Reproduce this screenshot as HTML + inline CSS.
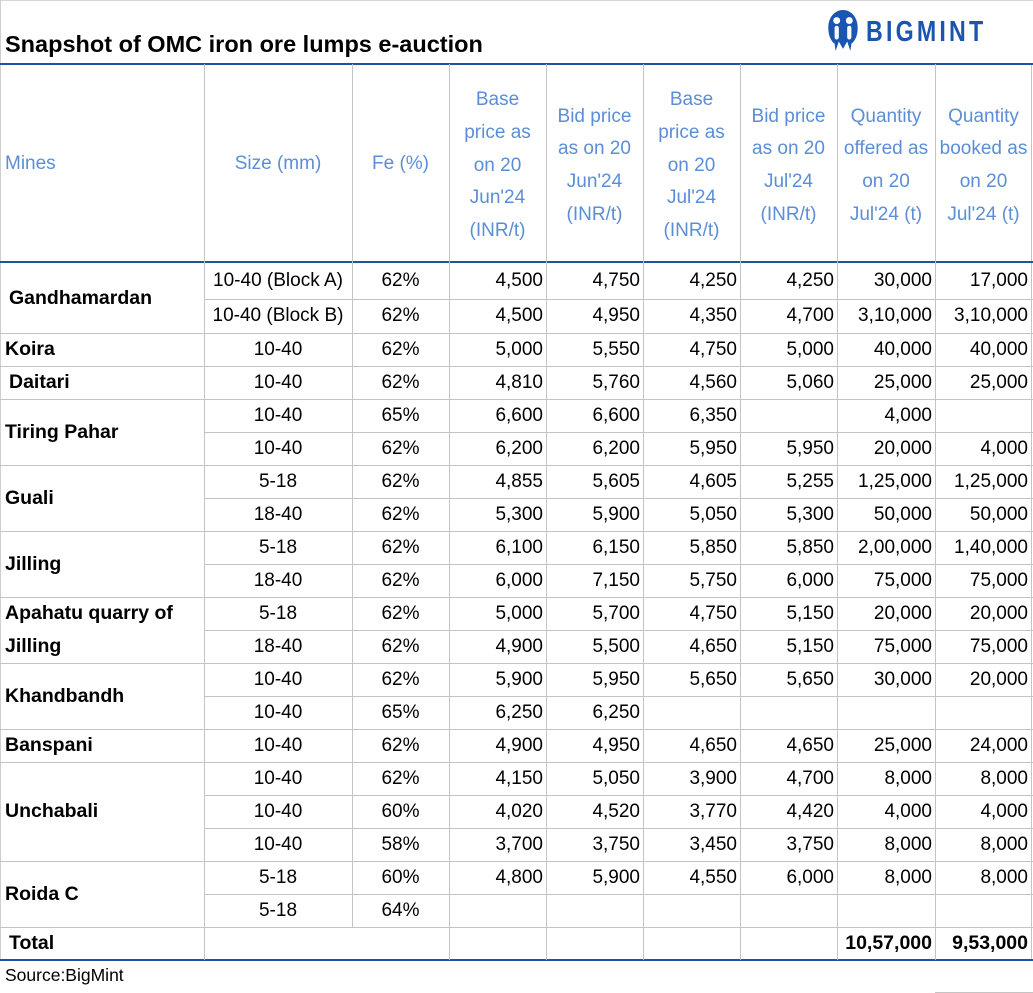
<!DOCTYPE html>
<html>
<head>
<meta charset="utf-8">
<style>
  html,body{margin:0;padding:0;}
  body{width:1033px;height:993px;position:relative;background:#fff;font-family:"Liberation Sans",sans-serif;overflow:hidden;color:#000;}
  .h{position:absolute;height:1px;background:#c4c4c4;}
  .v{position:absolute;width:1px;background:#c4c4c4;}
  .b{position:absolute;height:2px;background:#1f52a0;left:0;width:1033px;}
  .r{position:absolute;left:0;width:1033px;}
  .r>span{position:absolute;top:0;height:100%;white-space:nowrap;font-size:19px;}
  .s{left:204px;width:148px;text-align:center;}
  .f{left:352px;width:97px;text-align:center;}
  .c3{left:449px;width:94px;text-align:right;}
  .c4{left:546px;width:94px;text-align:right;}
  .c5{left:643px;width:94px;text-align:right;}
  .c6{left:740px;width:94px;text-align:right;}
  .c7{left:837px;width:95px;text-align:right;}
  .c8{left:935px;width:93px;text-align:right;}
  .mn{position:absolute;left:0;width:200px;font-weight:bold;font-size:19.5px;display:flex;align-items:center;padding-left:5px;line-height:33px;white-space:nowrap;}
  .hd{position:absolute;top:68px;height:196px;display:flex;align-items:center;justify-content:center;text-align:center;color:#5b8ed6;font-size:19px;line-height:32.7px;}
  .tb{font-weight:bold;}
</style>
</head>
<body>
<!-- outer borders -->
<div class="h" style="top:0;left:0;width:1033px;background:#d6d6d6"></div>
<div class="v" style="left:0;top:0;height:960px;background:#cfcfcf"></div>
<div class="v" style="left:1031px;top:64px;height:896px"></div>

<!-- title -->
<div style="position:absolute;left:5px;top:33px;font-size:23.5px;font-weight:bold;line-height:23.5px;white-space:nowrap;">Snapshot of OMC iron ore lumps e-auction</div>

<!-- logo -->
<svg style="position:absolute;left:826px;top:9px" width="34" height="42" viewBox="0 0 32 40">
  <path d="M2,18 C2,7 9,1 16,1 C23,1 30,7 30,18 C30,26 27,31 24,33 L23,40 L20,31 L16,38 L12,31 L9,40 L8,33 C5,31 2,26 2,18 Z" fill="#1a55b0"/>
  <circle cx="10" cy="11" r="3.3" fill="#fff"/>
  <circle cx="22" cy="11" r="3.3" fill="#fff"/>
  <rect x="8" y="16" width="4" height="13" rx="2" fill="#fff"/>
  <rect x="20" y="16" width="4" height="13" rx="2" fill="#fff"/>
</svg>
<div style="position:absolute;left:866px;top:18px;font-size:29px;line-height:29px;font-weight:bold;color:#1a55b0;letter-spacing:4px;transform:scaleX(0.8);transform-origin:0 0;white-space:nowrap;">BIGMINT</div>

<!-- blue lines -->
<div class="b" style="top:63px"></div>
<div class="b" style="top:261px"></div>
<div class="b" style="top:959px"></div>

<!-- vertical grid lines -->
<div class="v" style="left:204px;top:64px;height:896px"></div>
<div class="v" style="left:352px;top:64px;height:863px"></div>
<div class="v" style="left:449px;top:64px;height:896px"></div>
<div class="v" style="left:546px;top:64px;height:896px"></div>
<div class="v" style="left:643px;top:64px;height:896px"></div>
<div class="v" style="left:740px;top:64px;height:896px"></div>
<div class="v" style="left:837px;top:64px;height:896px"></div>
<div class="v" style="left:935px;top:64px;height:896px"></div>

<!-- horizontal grid lines -->
<div class="h" style="top:299px;left:204px;width:829px"></div>
<div class="h" style="top:333px;left:0;width:1033px"></div>
<div class="h" style="top:366px;left:0;width:1033px"></div>
<div class="h" style="top:399px;left:0;width:1033px"></div>
<div class="h" style="top:432px;left:204px;width:829px"></div>
<div class="h" style="top:465px;left:0;width:1033px"></div>
<div class="h" style="top:498px;left:204px;width:829px"></div>
<div class="h" style="top:531px;left:0;width:1033px"></div>
<div class="h" style="top:564px;left:204px;width:829px"></div>
<div class="h" style="top:597px;left:0;width:1033px"></div>
<div class="h" style="top:630px;left:204px;width:829px"></div>
<div class="h" style="top:663px;left:0;width:1033px"></div>
<div class="h" style="top:696px;left:204px;width:829px"></div>
<div class="h" style="top:729px;left:0;width:1033px"></div>
<div class="h" style="top:762px;left:0;width:1033px"></div>
<div class="h" style="top:795px;left:204px;width:829px"></div>
<div class="h" style="top:828px;left:204px;width:829px"></div>
<div class="h" style="top:861px;left:0;width:1033px"></div>
<div class="h" style="top:894px;left:204px;width:829px"></div>
<div class="h" style="top:927px;left:0;width:1033px"></div>
<div class="h" style="top:992px;left:935px;width:98px"></div>

<!-- header -->
<div class="hd" style="left:0;width:204px;justify-content:flex-start;padding-left:5px;top:66px;">Mines</div>
<div class="hd" style="left:204px;width:148px;top:66px;">Size (mm)</div>
<div class="hd" style="left:352px;width:97px;top:66px;">Fe (%)</div>
<div class="hd" style="left:449px;width:97px;">Base<br>price as<br>on 20<br>Jun'24<br>(INR/t)</div>
<div class="hd" style="left:546px;width:97px;">Bid price<br>as on 20<br>Jun'24<br>(INR/t)</div>
<div class="hd" style="left:643px;width:97px;">Base<br>price as<br>on 20<br>Jul'24<br>(INR/t)</div>
<div class="hd" style="left:740px;width:97px;">Bid price<br>as on 20<br>Jul'24<br>(INR/t)</div>
<div class="hd" style="left:837px;width:98px;">Quantity<br>offered as<br>on 20<br>Jul'24 (t)</div>
<div class="hd" style="left:935px;width:97px;">Quantity<br>booked as<br>on 20<br>Jul'24 (t)</div>

<!-- mine names -->
<div class="mn" style="top:263px;height:70px;padding-left:9px;">Gandhamardan</div>
<div class="mn" style="top:333px;height:33px;">Koira</div>
<div class="mn" style="top:366px;height:33px;padding-left:9px;">Daitari</div>
<div class="mn" style="top:399px;height:66px;">Tiring Pahar</div>
<div class="mn" style="top:465px;height:66px;">Guali</div>
<div class="mn" style="top:531px;height:66px;">Jilling</div>
<div class="mn" style="top:597px;height:66px;">Apahatu quarry of<br>Jilling</div>
<div class="mn" style="top:663px;height:66px;">Khandbandh</div>
<div class="mn" style="top:729px;height:33px;">Banspani</div>
<div class="mn" style="top:762px;height:99px;">Unchabali</div>
<div class="mn" style="top:861px;height:66px;">Roida C</div>
<div class="mn" style="top:927px;height:33px;padding-left:9px;">Total</div>

<!-- rows -->
<div class="r" style="top:263px;height:36px;line-height:36px;"><span class="s">10-40 (Block A)</span><span class="f">62%</span><span class="c3">4,500</span><span class="c4">4,750</span><span class="c5">4,250</span><span class="c6">4,250</span><span class="c7">30,000</span><span class="c8">17,000</span></div>
<div class="r" style="top:299px;height:34px;line-height:34px;"><span class="s">10-40 (Block B)</span><span class="f">62%</span><span class="c3">4,500</span><span class="c4">4,950</span><span class="c5">4,350</span><span class="c6">4,700</span><span class="c7">3,10,000</span><span class="c8">3,10,000</span></div>
<div class="r" style="top:333px;height:33px;line-height:33px;"><span class="s">10-40</span><span class="f">62%</span><span class="c3">5,000</span><span class="c4">5,550</span><span class="c5">4,750</span><span class="c6">5,000</span><span class="c7">40,000</span><span class="c8">40,000</span></div>
<div class="r" style="top:366px;height:33px;line-height:33px;"><span class="s">10-40</span><span class="f">62%</span><span class="c3">4,810</span><span class="c4">5,760</span><span class="c5">4,560</span><span class="c6">5,060</span><span class="c7">25,000</span><span class="c8">25,000</span></div>
<div class="r" style="top:399px;height:33px;line-height:33px;"><span class="s">10-40</span><span class="f">65%</span><span class="c3">6,600</span><span class="c4">6,600</span><span class="c5">6,350</span><span class="c7">4,000</span></div>
<div class="r" style="top:432px;height:33px;line-height:33px;"><span class="s">10-40</span><span class="f">62%</span><span class="c3">6,200</span><span class="c4">6,200</span><span class="c5">5,950</span><span class="c6">5,950</span><span class="c7">20,000</span><span class="c8">4,000</span></div>
<div class="r" style="top:465px;height:33px;line-height:33px;"><span class="s">5-18</span><span class="f">62%</span><span class="c3">4,855</span><span class="c4">5,605</span><span class="c5">4,605</span><span class="c6">5,255</span><span class="c7">1,25,000</span><span class="c8">1,25,000</span></div>
<div class="r" style="top:498px;height:33px;line-height:33px;"><span class="s">18-40</span><span class="f">62%</span><span class="c3">5,300</span><span class="c4">5,900</span><span class="c5">5,050</span><span class="c6">5,300</span><span class="c7">50,000</span><span class="c8">50,000</span></div>
<div class="r" style="top:531px;height:33px;line-height:33px;"><span class="s">5-18</span><span class="f">62%</span><span class="c3">6,100</span><span class="c4">6,150</span><span class="c5">5,850</span><span class="c6">5,850</span><span class="c7">2,00,000</span><span class="c8">1,40,000</span></div>
<div class="r" style="top:564px;height:33px;line-height:33px;"><span class="s">18-40</span><span class="f">62%</span><span class="c3">6,000</span><span class="c4">7,150</span><span class="c5">5,750</span><span class="c6">6,000</span><span class="c7">75,000</span><span class="c8">75,000</span></div>
<div class="r" style="top:597px;height:33px;line-height:33px;"><span class="s">5-18</span><span class="f">62%</span><span class="c3">5,000</span><span class="c4">5,700</span><span class="c5">4,750</span><span class="c6">5,150</span><span class="c7">20,000</span><span class="c8">20,000</span></div>
<div class="r" style="top:630px;height:33px;line-height:33px;"><span class="s">18-40</span><span class="f">62%</span><span class="c3">4,900</span><span class="c4">5,500</span><span class="c5">4,650</span><span class="c6">5,150</span><span class="c7">75,000</span><span class="c8">75,000</span></div>
<div class="r" style="top:663px;height:33px;line-height:33px;"><span class="s">10-40</span><span class="f">62%</span><span class="c3">5,900</span><span class="c4">5,950</span><span class="c5">5,650</span><span class="c6">5,650</span><span class="c7">30,000</span><span class="c8">20,000</span></div>
<div class="r" style="top:696px;height:33px;line-height:33px;"><span class="s">10-40</span><span class="f">65%</span><span class="c3">6,250</span><span class="c4">6,250</span></div>
<div class="r" style="top:729px;height:33px;line-height:33px;"><span class="s">10-40</span><span class="f">62%</span><span class="c3">4,900</span><span class="c4">4,950</span><span class="c5">4,650</span><span class="c6">4,650</span><span class="c7">25,000</span><span class="c8">24,000</span></div>
<div class="r" style="top:762px;height:33px;line-height:33px;"><span class="s">10-40</span><span class="f">62%</span><span class="c3">4,150</span><span class="c4">5,050</span><span class="c5">3,900</span><span class="c6">4,700</span><span class="c7">8,000</span><span class="c8">8,000</span></div>
<div class="r" style="top:795px;height:33px;line-height:33px;"><span class="s">10-40</span><span class="f">60%</span><span class="c3">4,020</span><span class="c4">4,520</span><span class="c5">3,770</span><span class="c6">4,420</span><span class="c7">4,000</span><span class="c8">4,000</span></div>
<div class="r" style="top:828px;height:33px;line-height:33px;"><span class="s">10-40</span><span class="f">58%</span><span class="c3">3,700</span><span class="c4">3,750</span><span class="c5">3,450</span><span class="c6">3,750</span><span class="c7">8,000</span><span class="c8">8,000</span></div>
<div class="r" style="top:861px;height:33px;line-height:33px;"><span class="s">5-18</span><span class="f">60%</span><span class="c3">4,800</span><span class="c4">5,900</span><span class="c5">4,550</span><span class="c6">6,000</span><span class="c7">8,000</span><span class="c8">8,000</span></div>
<div class="r" style="top:894px;height:33px;line-height:33px;"><span class="s">5-18</span><span class="f">64%</span></div>
<div class="r" style="top:927px;height:33px;line-height:33px;"><span class="c7 tb" style="font-size:19.5px">10,57,000</span><span class="c8 tb" style="font-size:19.5px">9,53,000</span></div>

<!-- source -->
<div style="position:absolute;left:5px;top:964px;font-size:17.5px;line-height:22px;white-space:nowrap;">Source:BigMint</div>
</body>
</html>
